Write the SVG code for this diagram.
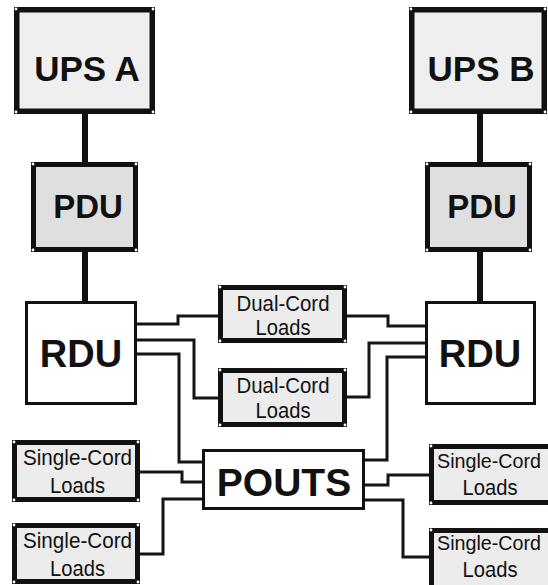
<svg xmlns="http://www.w3.org/2000/svg" width="548" height="585" viewBox="0 0 548 585">
<style>
  text { font-family: "Liberation Sans", Arial, sans-serif; fill: #111; text-anchor: middle; }
  .big { font-weight: bold; }
  .ups { fill: #efefef; stroke: #111; stroke-width: 5.5; }
  .pdu { fill: #dfdfdf; stroke: #111; stroke-width: 5; }
  .rdu { fill: #ffffff; stroke: #111; stroke-width: 3; }
  .load { fill: #ececec; stroke: #111; stroke-width: 5; }
  .trunk { stroke: #111; stroke-width: 6; fill: none; }
  .cord { stroke: #151515; stroke-width: 3; fill: none; }
  .dot { fill: #ffffff; }
  .lt { font-size: 22px; }
  .lr { font-size: 21px; }
</style>
<defs>
  <circle id="d" r="1.4" class="dot"/>
</defs>

<g id="connectors">
  <line class="trunk" x1="85" y1="112" x2="85" y2="164"/>
  <line class="trunk" x1="85" y1="250" x2="85" y2="302"/>
  <line class="trunk" x1="480" y1="112" x2="480" y2="164"/>
  <line class="trunk" x1="480" y1="250" x2="480" y2="302"/>
  <path class="cord" d="M137 324 H178 V316 H219"/>
  <path class="cord" d="M137 340 H194 V398 H219"/>
  <path class="cord" d="M137 354 H179 V462 H203"/>
  <path class="cord" d="M426 326 H388 V316 H346"/>
  <path class="cord" d="M426 343 H369 V397 H346"/>
  <path class="cord" d="M426 357 H387 V460 H364"/>
  <path class="cord" d="M139 472 H182 V482 H203"/>
  <path class="cord" d="M139 554 H163 V499 H203"/>
  <path class="cord" d="M364 485 H388 V475 H430"/>
  <path class="cord" d="M364 500 H403 V557 H430"/>
</g>

<g id="ups-a">
  <rect class="ups" x="16.75" y="9.75" width="135.5" height="101.5"/>
  <use href="#d" x="16" y="9"/><use href="#d" x="153" y="9"/><use href="#d" x="16" y="112"/><use href="#d" x="153" y="112"/>
  <text class="big" x="87" y="81" font-size="35">UPS A</text>
</g>
<g id="ups-b">
  <rect class="ups" x="411.75" y="9.75" width="132.5" height="101.5"/>
  <use href="#d" x="411" y="9"/><use href="#d" x="545" y="9"/><use href="#d" x="411" y="112"/><use href="#d" x="545" y="112"/>
  <text class="big" x="481" y="81" font-size="35">UPS B</text>
</g>
<g id="pdu-a">
  <rect class="pdu" x="33.5" y="164.5" width="102" height="85"/>
  <use href="#d" x="33" y="164"/><use href="#d" x="136" y="164"/><use href="#d" x="33" y="250"/><use href="#d" x="136" y="250"/>
  <text class="big" x="88" y="218" font-size="33">PDU</text>
</g>
<g id="pdu-b">
  <rect class="pdu" x="427.5" y="164.5" width="102" height="85"/>
  <use href="#d" x="427" y="164"/><use href="#d" x="530" y="164"/><use href="#d" x="427" y="250"/><use href="#d" x="530" y="250"/>
  <text class="big" x="482" y="218" font-size="33">PDU</text>
</g>
<g id="rdu-a">
  <rect class="rdu" x="26.5" y="302.5" width="109" height="101"/>
  <text class="big" x="81" y="367" font-size="38">RDU</text>
</g>
<g id="rdu-b">
  <rect class="rdu" x="426.5" y="302.5" width="108" height="101"/>
  <text class="big" x="480" y="367" font-size="38">RDU</text>
</g>
<g id="dual-1">
  <rect class="load" x="220.5" y="287.5" width="124" height="53"/>
  <use href="#d" x="220" y="287"/><use href="#d" x="345" y="287"/><use href="#d" x="220" y="341"/><use href="#d" x="345" y="341"/>
  <text class="lt" x="283" y="311" textLength="93" lengthAdjust="spacingAndGlyphs">Dual-Cord</text>
  <text class="lt" x="283" y="335" textLength="55" lengthAdjust="spacingAndGlyphs">Loads</text>
</g>
<g id="dual-2">
  <rect class="load" x="220.5" y="370.5" width="124" height="54"/>
  <use href="#d" x="220" y="370"/><use href="#d" x="345" y="370"/><use href="#d" x="220" y="425"/><use href="#d" x="345" y="425"/>
  <text class="lt" x="283" y="393" textLength="93" lengthAdjust="spacingAndGlyphs">Dual-Cord</text>
  <text class="lt" x="283" y="418" textLength="55" lengthAdjust="spacingAndGlyphs">Loads</text>
</g>
<g id="pouts">
  <rect class="rdu" x="203.5" y="450.5" width="160" height="58"/>
  <text class="big" x="284" y="496" font-size="39">POUTS</text>
</g>
<g id="single-l1">
  <rect class="load" x="14.5" y="442.5" width="123" height="57"/>
  <use href="#d" x="14" y="442"/><use href="#d" x="138" y="442"/><use href="#d" x="14" y="500"/><use href="#d" x="138" y="500"/>
  <text class="lt" x="77.5" y="465" textLength="109" lengthAdjust="spacingAndGlyphs">Single-Cord</text>
  <text class="lt" x="77.5" y="493" textLength="55" lengthAdjust="spacingAndGlyphs">Loads</text>
</g>
<g id="single-l2">
  <rect class="load" x="14.5" y="525.5" width="123" height="56"/>
  <use href="#d" x="14" y="525"/><use href="#d" x="138" y="525"/><use href="#d" x="14" y="582"/><use href="#d" x="138" y="582"/>
  <text class="lt" x="77.5" y="548" textLength="109" lengthAdjust="spacingAndGlyphs">Single-Cord</text>
  <text class="lt" x="77.5" y="576" textLength="55" lengthAdjust="spacingAndGlyphs">Loads</text>
</g>
<g id="single-r1">
  <rect class="load" x="431.5" y="446.5" width="130" height="56"/>
  <use href="#d" x="431" y="446"/><use href="#d" x="431" y="503"/>
  <text class="lr" x="489" y="468" textLength="104" lengthAdjust="spacingAndGlyphs">Single-Cord</text>
  <text class="lt" x="490" y="495" textLength="55" lengthAdjust="spacingAndGlyphs">Loads</text>
</g>
<g id="single-r2">
  <rect class="load" x="431.5" y="530.5" width="130" height="64"/>
  <use href="#d" x="431" y="530"/>
  <text class="lr" x="489" y="550" textLength="104" lengthAdjust="spacingAndGlyphs">Single-Cord</text>
  <text class="lt" x="490" y="577" textLength="55" lengthAdjust="spacingAndGlyphs">Loads</text>
</g>
</svg>
